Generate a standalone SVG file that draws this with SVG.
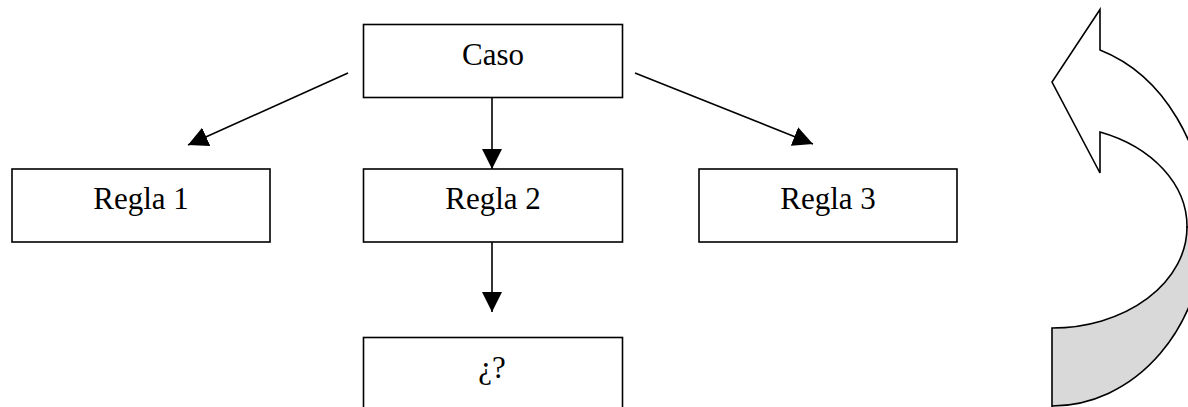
<svg xmlns="http://www.w3.org/2000/svg" width="1188" height="407" viewBox="0 0 1188 407">
<style>
.box{fill:#ffffff;stroke:#000000;stroke-width:1.6}
.lbl{font-family:"Liberation Serif","Times New Roman",serif;font-size:31px;fill:#000000;text-anchor:middle}
.edge{stroke:#000000;stroke-width:1.6;fill:none;marker-end:url(#ah)}
.shape{stroke:#000000;stroke-width:1.6;stroke-linejoin:miter}
</style>
<defs>
<marker id="ah" markerUnits="userSpaceOnUse" markerWidth="20" markerHeight="20" refX="20" refY="10" orient="auto" viewBox="0 0 20 20">
<path d="M0,0 L20,10 L0,20 Z" fill="#000000"/>
</marker>
</defs>
<rect width="1188" height="407" fill="#ffffff"/>
<g id="connectors">
<line class="edge" x1="348" y1="73" x2="188" y2="145"/>
<line class="edge" x1="492" y1="97" x2="492" y2="169"/>
<line class="edge" x1="635" y1="73" x2="813" y2="144"/>
<line class="edge" x1="492" y1="241" x2="492" y2="312"/>
</g>
<g id="caso">
<rect class="box" x="363.5" y="24.5" width="259" height="73"/>
<text class="lbl" x="493" y="65">Caso</text>
</g>
<g id="regla1">
<rect class="box" x="12" y="169" width="258" height="73"/>
<text class="lbl" x="141" y="209">Regla 1</text>
</g>
<g id="regla2">
<rect class="box" x="363.5" y="169" width="259" height="73"/>
<text class="lbl" x="493" y="209">Regla 2</text>
</g>
<g id="regla3">
<rect class="box" x="699" y="169" width="258" height="73"/>
<text class="lbl" x="828" y="209">Regla 3</text>
</g>
<g id="pregunta">
<rect class="box" x="363.5" y="337.5" width="259" height="80"/>
<text class="lbl" x="492" y="378">¿?</text>
</g>
<g id="curved-arrow">
<path class="shape" fill="#d9d9d9" d="M1052,328 A135,101 0 0 0 1187,227 L1205,227 A153,179 0 0 1 1052,406 L1052,420 L1052,328 Z"/>
<path class="shape" fill="#ffffff" d="M1100,9.5 L1052,82 L1100,173 L1100,132 A135,101 0 0 1 1187,227 L1206,227 A154,186 0 0 0 1100,50 Z"/>
</g>
</svg>
